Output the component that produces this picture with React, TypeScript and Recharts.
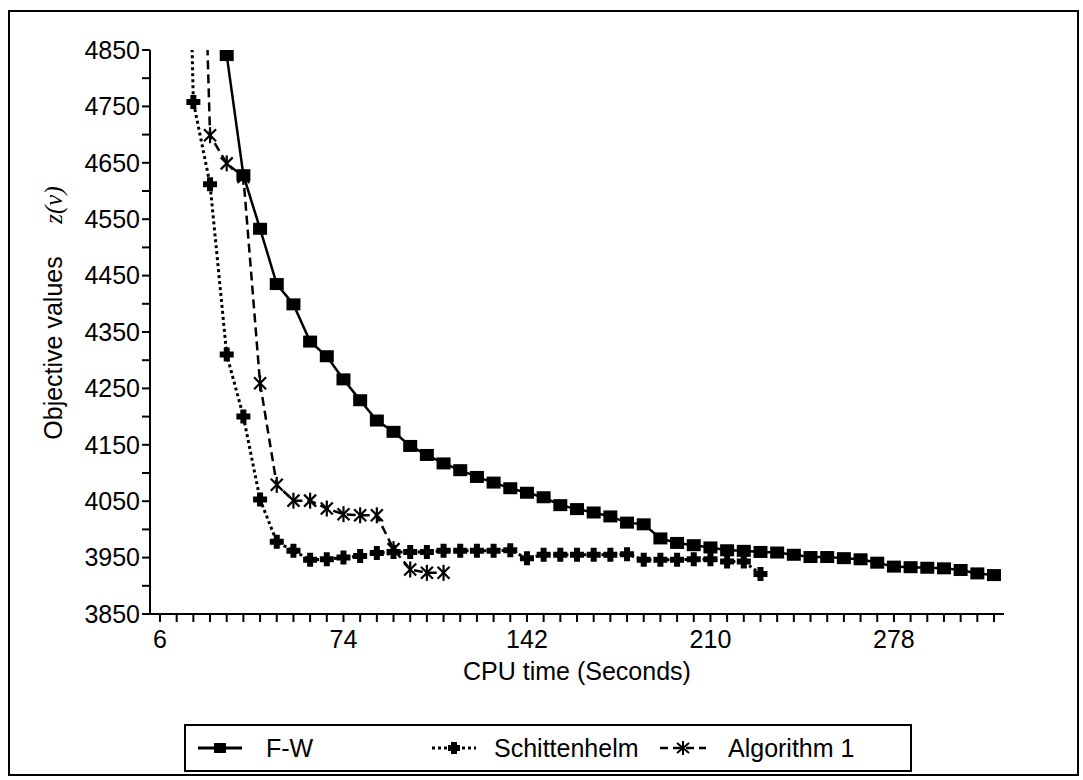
import React from "react";
import { LineChart, Line, XAxis, YAxis } from "recharts";

// category axis: one slot per recorded iteration time
const cpuTimes = [
  6, 12.18, 18.36, 24.55, 30.73, 36.91, 43.09, 49.27, 55.45, 61.64, 67.82,
  74, 80.18, 86.36, 92.55, 98.73, 104.91, 111.09, 117.27, 123.45, 129.64, 135.82,
  142, 148.18, 154.36, 160.55, 166.73, 172.91, 179.09, 185.27, 191.45, 197.64, 203.82,
  210, 216.18, 222.36, 228.55, 234.73, 240.91, 247.09, 253.27, 259.45, 265.64, 271.82,
  278, 284.18, 290.36, 296.55, 302.73, 308.91, 315.09,
];
const xTickLabels = [6, 74, 142, 210, 278];
const yTicks = [
  3850, 3900, 3950, 4000, 4050, 4100, 4150, 4200, 4250, 4300, 4350,
  4400, 4450, 4500, 4550, 4600, 4650, 4700, 4750, 4800, 4850,
];

const fwValues = [
  null, null, null, null, 4841, 4628, 4533, 4435, 4399, 4333, 4307,
  4266, 4229, 4193, 4173, 4148, 4132, 4117, 4105, 4093, 4083, 4073,
  4065, 4057, 4043, 4036, 4030, 4023, 4012, 4009, 3984, 3976, 3972,
  3968, 3963, 3962, 3960, 3959, 3955, 3951, 3951, 3949, 3947, 3941,
  3934, 3933, 3932, 3931, 3928, 3922, 3919,
];
const schittenhelmValues = [
  null, 6000, 4758, 4612, 4310, 4200, 4053, 3978, 3962, 3946, 3947,
  3950, 3953, 3958, 3960, 3960, 3960, 3962, 3962, 3962, 3962, 3963,
  3949, 3955, 3955, 3955, 3955, 3955, 3956, 3946, 3946, 3946, 3947,
  3947, 3943, 3943, 3921, null, null, null, null, null, null, null,
  null, null, null, null, null, null, null,
];
const algorithm1Values = [
  null, null, 5700, 4699, 4649, 4625, 4259, 4079, 4051, 4051, 4037,
  4027, 4025, 4025, 3965, 3929, 3923, 3923, null, null, null, null,
  null, null, null, null, null, null, null, null, null, null, null,
  null, null, null, null, null, null, null, null, null, null, null,
  null, null, null, null, null, null, null,
];

const data = cpuTimes.map((t, i) => ({
  t,
  fw: fwValues[i],
  sch: schittenhelmValues[i],
  alg: algorithm1Values[i],
}));

const FONT = "'Liberation Sans', Arial, Helvetica, sans-serif";

const SquareDot = (props: any) => {
  const { cx, cy, index } = props;
  if (cx == null || cy == null) return <g key={`fw-${index}`} />;
  return <rect key={`fw-${index}`} x={cx - 7} y={cy - 6} width={14} height={12} fill="#000" />;
};

const PlusDot = (props: any) => {
  const { cx, cy, index } = props;
  if (cx == null || cy == null) return <g key={`sch-${index}`} />;
  const a = 7;
  const w = 3;
  return (
    <path
      key={`sch-${index}`}
      d={`M${cx - w},${cy - a}H${cx + w}V${cy - w}H${cx + a}V${cy + w}H${cx + w}V${cy + a}H${cx - w}V${cy + w}H${cx - a}V${cy - w}H${cx - w}Z`}
      fill="#000"
    />
  );
};

const StarDot = (props: any) => {
  const { cx, cy, index } = props;
  if (cx == null || cy == null) return <g key={`alg-${index}`} />;
  const r = 8;
  const d = 6;
  return (
    <g key={`alg-${index}`} stroke="#000" strokeWidth={2.2}>
      <line x1={cx} y1={cy - r} x2={cx} y2={cy + r} />
      <line x1={cx - d} y1={cy - d} x2={cx + d} y2={cy + d} />
      <line x1={cx - d} y1={cy + d} x2={cx + d} y2={cy - d} />
    </g>
  );
};

const XTitle = (props: any) => {
  const vb = props.viewBox || { x: 150, y: 614, width: 854, height: 30 };
  return (
    <text x={vb.x + vb.width / 2} y={vb.y + 66} textAnchor="middle" fontSize={25} fontFamily={FONT} fill="#000">
      CPU time (Seconds)
    </text>
  );
};

const YTitle = () => (
  <g fontFamily={FONT} fill="#000">
    <text x={53} y={348} transform="rotate(-90, 53, 348)" textAnchor="middle" dominantBaseline="central" fontSize={25}>
      Objective values
    </text>
    <text
      x={53}
      y={205}
      transform="rotate(-90, 53, 205)"
      textAnchor="middle"
      dominantBaseline="central"
      fontSize={25}
      fontStyle="italic"
      fontFamily="'Liberation Serif', serif"
    >
      z(v)
    </text>
  </g>
);

function LegendBox() {
  const item = (left: number, icon: React.ReactNode, label: string, textLeft: number) => (
    <>
      <svg style={{ position: "absolute", left, top: 12 }} width={52} height={20}>
        {icon}
      </svg>
      <span style={{ position: "absolute", left: textLeft, top: 8, fontSize: 25, lineHeight: "28px" }}>{label}</span>
    </>
  );
  return (
    <div
      style={{
        position: "absolute",
        left: 184,
        top: 724,
        width: 728,
        height: 48,
        border: "2px solid #000",
        boxSizing: "border-box",
        fontFamily: FONT,
        color: "#000",
      }}
    >
      {item(
        10,
        <g>
          <line x1={2} y1={10} x2={46} y2={10} stroke="#000" strokeWidth={3} />
          <rect x={18} y={5} width={12} height={10} fill="#000" />
        </g>,
        "F-W",
        80
      )}
      {item(
        244,
        <g>
          <line x1={2} y1={10} x2={46} y2={10} stroke="#000" strokeWidth={3} strokeDasharray="3 3" />
          <path d="M21,4H27V7H30V13H27V16H21V13H18V7H21Z" fill="#000" />
        </g>,
        "Schittenhelm",
        308
      )}
      {item(
        472,
        <g>
          <line x1={2} y1={10} x2={48} y2={10} stroke="#000" strokeWidth={2.5} strokeDasharray="8 5" />
          <g stroke="#000" strokeWidth={2}>
            <line x1={25} y1={3} x2={25} y2={17} />
            <line x1={19} y1={5} x2={31} y2={15} />
            <line x1={19} y1={15} x2={31} y2={5} />
          </g>
        </g>,
        "Algorithm 1",
        542
      )}
    </div>
  );
}

export default function App() {
  const axisStroke = { stroke: "#000", strokeWidth: 2 };
  return (
    <div style={{ position: "absolute", left: 0, top: 0, width: 1083, height: 780, background: "#fff" }}>
      <div
        style={{
          position: "absolute",
          left: 8,
          top: 10,
          width: 1071,
          height: 766,
          border: "2px solid #000",
          boxSizing: "border-box",
        }}
      />
      <div style={{ position: "absolute", left: 0, top: 0 }}>
        <LineChart width={1083} height={780} data={data} margin={{ top: 50, right: 79, left: 90, bottom: 136 }}>
          <XAxis
            dataKey="t"
            type="category"
            interval={0}
            height={30}
            padding={{ left: 10, right: 10 }}
            tickSize={8}
            tickMargin={8}
            axisLine={axisStroke}
            tickLine={axisStroke}
            tick={{ fontSize: 25, fontFamily: FONT, fill: "#000" }}
            tickFormatter={(v: number) => (xTickLabels.includes(v) ? String(v) : "")}
            label={<XTitle />}
          />
          <XAxis
            xAxisId="top"
            dataKey="t"
            orientation="top"
            height={0}
            padding={{ left: 10, right: 10 }}
            tick={false}
            tickLine={false}
            axisLine={axisStroke}
          />
          <YAxis
            type="number"
            domain={[3850, 4850]}
            ticks={yTicks}
            interval={0}
            allowDataOverflow
            width={60}
            tickSize={8}
            tickMargin={2}
            axisLine={axisStroke}
            tickLine={axisStroke}
            tick={{ fontSize: 25, fontFamily: FONT, fill: "#000" }}
            tickFormatter={(v: number) => (v % 100 === 50 ? String(v) : "")}
            label={<YTitle />}
          />
          <YAxis
            yAxisId="right"
            orientation="right"
            type="number"
            domain={[3850, 4850]}
            width={0}
            tick={false}
            tickLine={false}
            axisLine={axisStroke}
          />
          <Line
            dataKey="fw"
            name="F-W"
            type="linear"
            stroke="#000"
            strokeWidth={2.5}
            dot={SquareDot}
            activeDot={false}
            isAnimationActive={false}
          />
          <Line
            dataKey="sch"
            name="Schittenhelm"
            type="linear"
            stroke="#000"
            strokeWidth={3}
            strokeDasharray="3 3"
            dot={PlusDot}
            activeDot={false}
            isAnimationActive={false}
          />
          <Line
            dataKey="alg"
            name="Algorithm 1"
            type="linear"
            stroke="#000"
            strokeWidth={2.5}
            strokeDasharray="9 5"
            dot={StarDot}
            activeDot={false}
            isAnimationActive={false}
          />
        </LineChart>
      </div>
      <LegendBox />
    </div>
  );
}
